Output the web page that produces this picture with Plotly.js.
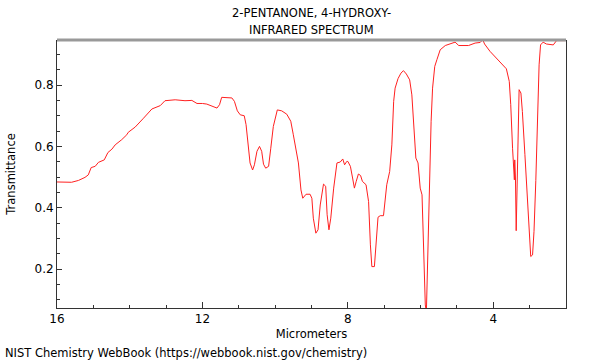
<!DOCTYPE html>
<html>
<head>
<meta charset="utf-8">
<script src="https://cdn.plot.ly/plotly-3.0.1.min.js"></script>
<style>html,body{margin:0;padding:0;background:#fff;}#chart{width:600px;height:360px;}</style>
</head>
<body>
<div id="chart"></div>
<script>
const titleLines = ["2-PENTANONE, 4-HYDROXY-", "INFRARED SPECTRUM"];
const xLabel = "Micrometers";
const yLabel = "Transmittance";
const footer = "NIST Chemistry WebBook (https://webbook.nist.gov/chemistry)";

const wavelength = [
  16.0, 15.98, 15.6, 15.41, 15.23, 15.14, 15.06, 14.95, 14.86, 14.70, 14.60, 14.49, 14.40, 14.22, 14.08, 14.04,
  13.85, 13.62, 13.39, 13.16, 13.03, 12.75, 12.48, 12.29, 12.15, 12.0, 11.88, 11.60, 11.53, 11.47, 11.19,
  11.12, 11.04, 10.96, 10.85, 10.80, 10.73, 10.69, 10.62, 10.57, 10.50, 10.43, 10.37, 10.32, 10.26, 10.18,
  10.12, 10.05, 9.94, 9.82, 9.68, 9.57, 9.50, 9.42, 9.36, 9.29, 9.24, 9.15, 9.04, 8.99, 8.95, 8.88, 8.82,
  8.76, 8.67, 8.61, 8.57, 8.52, 8.47, 8.39, 8.30, 8.21, 8.14, 8.09, 8.03, 8.00, 7.93, 7.87, 7.82, 7.77,
  7.71, 7.65, 7.60, 7.50, 7.43, 7.38, 7.34, 7.27, 7.22, 7.17, 7.11, 7.02, 6.93, 6.85, 6.79, 6.74, 6.70,
  6.62, 6.54, 6.47, 6.39, 6.30, 6.24, 6.19, 6.13, 6.07, 6.01, 5.96, 5.91, 5.87, 5.84, 5.80, 5.75, 5.71,
  5.67, 5.61, 5.55, 5.46, 5.32, 5.14, 5.05, 4.95, 4.68, 4.50, 4.36, 4.29, 4.24, 4.09, 3.91, 3.77, 3.64,
  3.56, 3.52, 3.47, 3.42, 3.41, 3.39, 3.37, 3.34, 3.31, 3.29, 3.24, 3.20, 3.13, 3.07, 3.01, 2.97, 2.92,
  2.88, 2.83, 2.79, 2.74, 2.70, 2.63, 2.54, 2.35, 2.26, 2.03
];
const transmittance = [
  0.484, 0.484, 0.483, 0.489, 0.499, 0.507, 0.531, 0.535, 0.548, 0.556, 0.580, 0.591, 0.605, 0.622, 0.638, 0.646,
  0.663, 0.692, 0.722, 0.733, 0.749, 0.752, 0.749, 0.750, 0.740, 0.740, 0.738, 0.725, 0.736, 0.760, 0.758,
  0.747, 0.716, 0.703, 0.700, 0.671, 0.594, 0.546, 0.523, 0.540, 0.584, 0.600, 0.584, 0.542, 0.529, 0.535,
  0.594, 0.665, 0.719, 0.716, 0.705, 0.682, 0.638, 0.584, 0.546, 0.458, 0.431, 0.444, 0.444, 0.431, 0.366, 0.317, 0.328,
  0.409, 0.477, 0.470, 0.377, 0.328, 0.366, 0.464, 0.546, 0.549, 0.559, 0.540, 0.551, 0.551, 0.535, 0.497, 0.464, 0.486,
  0.510, 0.505, 0.486, 0.475, 0.420, 0.279, 0.208, 0.208, 0.290, 0.369, 0.374, 0.374, 0.475, 0.518, 0.605, 0.747, 0.790,
  0.821, 0.839, 0.847, 0.836, 0.817, 0.768, 0.670, 0.562, 0.546, 0.464, 0.442, 0.246, 0.083, 0.060, 0.246, 0.518, 0.682,
  0.790, 0.861, 0.883, 0.915, 0.929, 0.937, 0.940, 0.929, 0.929, 0.937, 0.939, 0.948, 0.934, 0.910, 0.888, 0.872, 0.853,
  0.812, 0.736, 0.594, 0.491, 0.556, 0.497, 0.325, 0.518, 0.736, 0.785, 0.774, 0.714, 0.573, 0.431, 0.301, 0.241, 0.246,
  0.323, 0.489, 0.682, 0.866, 0.931, 0.940, 0.934, 0.931, 0.945, 0.945
];

const font = "DejaVu Sans, sans-serif";
const fs = 11.5;
const trace = {
  x: wavelength, y: transmittance, type: "scatter", mode: "lines",
  line: {color: "#ff2020", width: 1}, hoverinfo: "skip"
};
const annotations = titleLines.map((t, i) => ({
  text: t, xref: "paper", yref: "paper", x: 0.5, y: [1.1007, 1.0373][i],
  xanchor: "center", yanchor: "middle", showarrow: false,
  font: {family: font, size: fs, color: "#000"}
}));
annotations.push({text: footer, xref: "paper", yref: "paper", x: -0.106, y: -0.168,
                  xanchor: "left", yanchor: "middle", showarrow: false,
                  font: {family: font, size: fs, color: "#000"}});
const layout = {
  width: 600, height: 360,
  margin: {l: 57, r: 34, t: 40, b: 52},
  paper_bgcolor: "#ffffff", plot_bgcolor: "#ffffff",
  font: {family: font, size: 12, color: "#000"},
  showlegend: false,
  xaxis: {
    range: [16, 2], autorange: false, showgrid: false, zeroline: false,
    showline: true, linecolor: "#333", linewidth: 1, mirror: false,
    ticks: "inside", ticklen: 6, tickcolor: "#333", tick0: 0, dtick: 4,
    minor: {ticks: "inside", ticklen: 3, dtick: 1, tick0: 0, tickcolor: "#333"},
    tickfont: {family: font, size: 12},
    title: {text: xLabel, font: {family: font, size: fs}, standoff: 4}
  },
  yaxis: {
    range: [0.073, 0.947], autorange: false, showgrid: false, zeroline: false,
    showline: true, linecolor: "#333", linewidth: 1, mirror: true,
    ticks: "inside", ticklen: 5, tickcolor: "#333", tick0: 0, dtick: 0.2,
    minor: {ticks: "inside", ticklen: 3, dtick: 0.05, tick0: 0, tickcolor: "#333"},
    tickformat: ".1f",
    tickfont: {family: font, size: 12},
    title: {text: yLabel, font: {family: font, size: fs}, standoff: 16}
  },
  shapes: [{type: "line", xref: "paper", yref: "paper", x0: 0, x1: 1, y0: 1, y1: 1,
            line: {color: "#999", width: 3}}],
  annotations: annotations
};
Plotly.newPlot("chart", [trace], layout, {displayModeBar: false, staticPlot: true});
</script>
</body>
</html>
